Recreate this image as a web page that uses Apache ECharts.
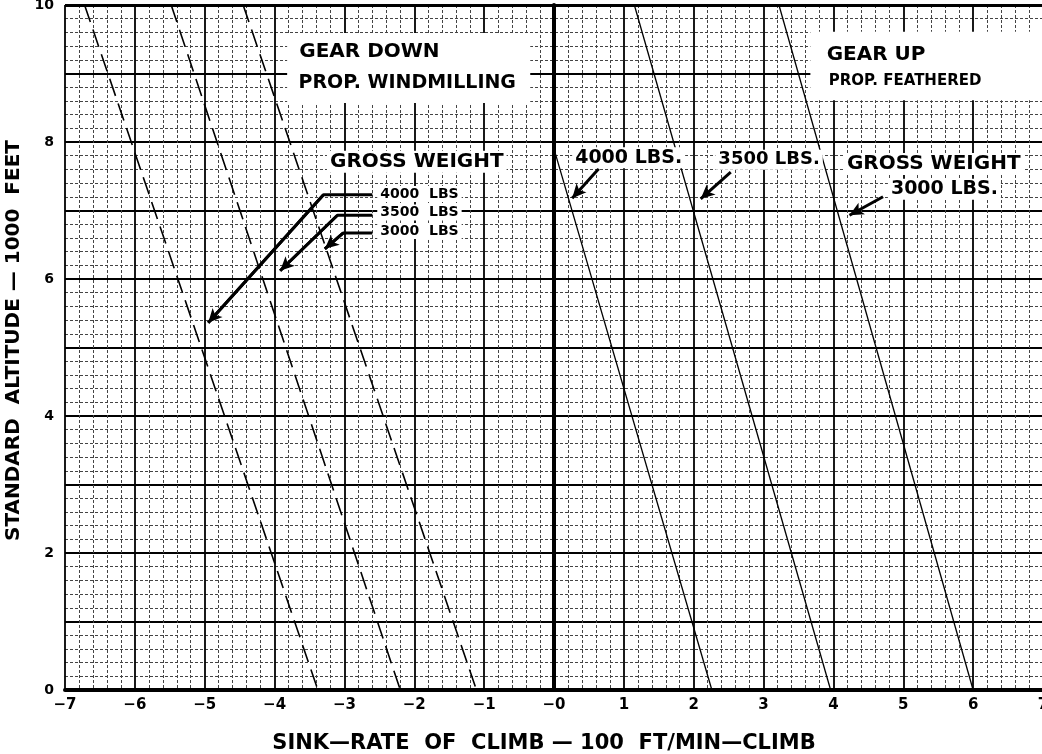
<!DOCTYPE html>
<html>
<head>
<meta charset="utf-8">
<script src="https://cdn.jsdelivr.net/npm/echarts@6/dist/echarts.min.js"></script>
<style>
html,body{margin:0;padding:0;background:#fff;}
#chart{width:1042px;height:754px;}
</style>
</head>
<body>
<div id="chart"></div>
<script>
// ---- data (x = rate of climb, 100 ft/min ; y = altitude, 1000 ft) ----
const xTicks = [-7,-6,-5,-4,-3,-2,-1,0,1,2,3,4,5,6,7];
const yTicks = [0,2,4,6,8,10];
// Gear down, prop windmilling (dashed)
const gearDown4000 = [[-6.72,10],[-3.38,0]];
const gearDown3500 = [[-5.48,10],[-2.20,0]];
const gearDown3000 = [[-4.45,10],[-1.11,0]];
// Gear up, prop feathered (solid)
const gearUp4000 = [[0.0,7.9],[2.26,0]];
const gearUp3500 = [[1.15,10],[3.96,0]];
const gearUp3000 = [[3.22,10],[6.0,0]];

// ---- annotations (data coordinates) ----
const FONT = 'DejaVu Sans';
const texts = [
  {t:'GEAR DOWN', p:[-3.69,9.31], s:20},
  {t:'PROP. WINDMILLING', p:[-3.70,8.86], s:19},
  {t:'GROSS WEIGHT', p:[-3.25,7.71], s:20, bg:true},
  {t:'4000  LBS', p:[-2.53,7.24], s:14, bg:true},
  {t:'3500  LBS', p:[-2.53,6.97], s:14, bg:true},
  {t:'3000  LBS', p:[-2.53,6.70], s:14, bg:true},
  {t:'GEAR UP', p:[3.86,9.27], s:20},
  {t:'PROP. FEATHERED', p:[3.89,8.89], s:15},
  {t:'4000 LBS.', p:[0.26,7.77], s:19, bg:true},
  {t:'3500 LBS.', p:[2.31,7.74], s:18, bg:true},
  {t:'GROSS WEIGHT', p:[4.15,7.68], s:20, bg:true},
  {t:'3000 LBS.', p:[4.78,7.31], s:19, bg:true}
];
const boxes = [
  [[-3.82,9.59],[-0.34,8.57]],
  [[3.67,9.61],[7,8.61]]
];
const leaders = [
  [[-2.60,7.23],[-3.30,7.23],[-4.95,5.36]],
  [[-2.60,6.93],[-3.10,6.93],[-3.92,6.12]],
  [[-2.60,6.67],[-3.02,6.67],[-3.28,6.44]]
];
const arrows = [
  [[-3.30,7.23],[-4.95,5.36]],
  [[-3.10,6.93],[-3.92,6.12]],
  [[-3.02,6.67],[-3.28,6.44]],
  [[0.64,7.61],[0.26,7.18]],
  [[2.53,7.56],[2.10,7.17]],
  [[4.71,7.20],[4.23,6.93]]
];

const chart = echarts.init(document.getElementById('chart'), null, {renderer:'canvas'});

function curve(data, dashed){
  return {
    type:'line', data:data, symbol:'none', silent:true, z:5,
    lineStyle:{color:'#000', width: dashed?1.6:1.3, type: dashed?[18,8]:'solid'}
  };
}

const series = [
  {
    type:'line', data:[], silent:true, z:3,
    markArea:{silent:true, itemStyle:{color:'#fff', opacity:1},
      data: boxes.map(b=>[{coord:b[0]},{coord:b[1]}])},
    markLine:{silent:true, symbol:'none', label:{show:false},
      lineStyle:{color:'#000', type:'solid'},
      data:[
        {xAxis:0, lineStyle:{width:4, color:'#000', type:'solid'}},
        {yAxis:10, lineStyle:{width:3, color:'#000', type:'solid'}}
      ]}
  },
  curve(gearDown4000,true), curve(gearDown3500,true), curve(gearDown3000,true),
  curve(gearUp4000,false), curve(gearUp3500,false), curve(gearUp3000,false)
];
leaders.forEach(l=>series.push({type:'line', data:l, symbol:'none', silent:true, z:8,
  lineStyle:{color:'#000', width:3}}));
series.push({
  type:'line', data:[], silent:true, z:8,
  markLine:{silent:true, symbol:['none','arrow'], symbolSize:[10,14], label:{show:false},
    lineStyle:{color:'#000', width:3, type:'solid'},
    itemStyle:{color:'#000'},
    data: arrows.map(a=>[{coord:a[0]},{coord:a[1]}])}
});
series.push({
  type:'scatter', symbolSize:0, silent:true, z:9,
  itemStyle:{opacity:1, color:'#000'},
  data: texts.map(o=>({value:o.p, label:{
    show:true, position:'right', distance:0, formatter:o.t,
    fontFamily:FONT, fontWeight:'bold', fontSize:o.s, color:'#000', opacity:1,
    backgroundColor: o.bg ? '#fff' : 'transparent', padding:[1,3,1,3]
  }}))
});

const option = {
  animation:false,
  backgroundColor:'#fff',
  grid:{left:65, top:5, width:978, height:685, show:false, containLabel:false, outerBoundsMode:'none'},
  xAxis:{
    type:'value', min:-7, max:7, interval:1,
    axisLine:{show:true, onZero:false, lineStyle:{color:'#000', width:4}},
    axisTick:{show:false},
    axisLabel:{margin:8, color:'#000', fontFamily:FONT, fontWeight:'bold', fontSize:15,
      formatter:v=> v<0 ? '\u2212'+Math.abs(v) : (v===0 ? '\u22120' : String(v))},
    splitLine:{show:true, lineStyle:{color:'#000', width:1.8}},
    minorTick:{show:false, splitNumber:5},
    minorSplitLine:{show:true, lineStyle:{color:'#444', width:1, type:[3,2]}},
    name:'SINK\u2014RATE  OF  CLIMB \u2014 100  FT/MIN\u2014CLIMB',
    nameLocation:'middle', nameGap:43,
    nameTextStyle:{color:'#000', fontFamily:FONT, fontWeight:'bold', fontSize:21, padding:[0,20,0,0]}
  },
  yAxis:{
    type:'value', min:0, max:10, interval:1,
    axisLine:{show:true, lineStyle:{color:'#000', width:4}},
    axisTick:{show:false},
    axisLabel:{margin:11, color:'#000', fontFamily:FONT, fontWeight:'bold', fontSize:14,
      formatter:v=> yTicks.indexOf(v)>=0 ? String(v) : ''},
    splitLine:{show:true, lineStyle:{color:'#000', width:1.8}},
    minorTick:{show:false, splitNumber:5},
    minorSplitLine:{show:true, lineStyle:{color:'#444', width:1, type:[3,2]}},
    name:'STANDARD  ALTITUDE \u2014 1000  FEET',
    nameLocation:'middle', nameGap:37,
    nameTextStyle:{color:'#000', fontFamily:FONT, fontWeight:'bold', fontSize:20, padding:[0,0,0,14]}
  },
  series:series
};
chart.setOption(option);
</script>
</body>
</html>
